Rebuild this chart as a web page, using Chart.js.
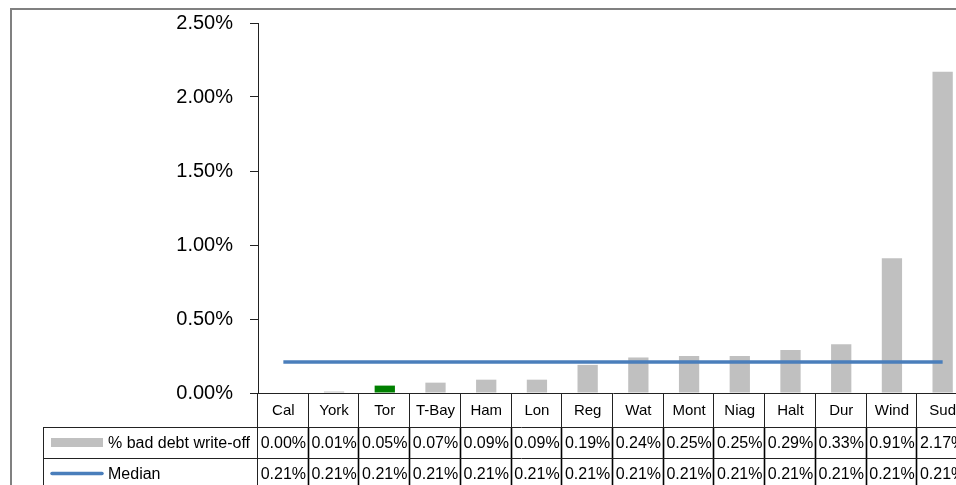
<!DOCTYPE html>
<html>
<head>
<meta charset="utf-8">
<title>% bad debt write-off</title>
<script src="https://cdn.jsdelivr.net/npm/chart.js@4/dist/chart.umd.min.js"></script>
<style>
  html, body { margin: 0; padding: 0; background: #fff; overflow: hidden; }
  #wrap { position: relative; width: 956px; height: 485px; overflow: hidden; }
  canvas { position: absolute; left: 0; top: 0; }
</style>
</head>
<body>
<div id="wrap"><canvas id="c" width="1000" height="520"></canvas></div>
<script>
// Write-off rates by region (percent), sorted ascending
const categories = ['Cal', 'York', 'Tor', 'T-Bay', 'Ham', 'Lon', 'Reg', 'Wat', 'Mont', 'Niag', 'Halt', 'Dur', 'Wind', 'Sud'];
const badDebt = [0.00, 0.01, 0.05, 0.07, 0.09, 0.09, 0.19, 0.24, 0.25, 0.25, 0.29, 0.33, 0.91, 2.17];
const median = [0.21, 0.21, 0.21, 0.21, 0.21, 0.21, 0.21, 0.21, 0.21, 0.21, 0.21, 0.21, 0.21, 0.21];
const seriesNames = ['% bad debt write-off', 'Median'];
const highlight = 'Tor';

const GREY = '#c0c0c0';
const GREEN = '#008000';
const BLUE = '#4a7ebb';
const NARROW = '"Liberation Sans Narrow", "Arial Narrow", "Liberation Sans", Arial, sans-serif';
const SANS = '"Liberation Sans", Arial, sans-serif';
const fmt = v => v.toFixed(2) + '%';

// Frame and data table drawn beneath the plot, aligned to the category scale
const dataTable = {
  id: 'dataTable',
  afterDraw(chart) {
    const ctx = chart.ctx;
    const x = chart.scales.x;
    const area = chart.chartArea;
    const n = categories.length;
    const step = x.width / n;
    const axisY = area.bottom;
    const rowTop = axisY + 34;
    const rowH = 31;
    const tableLeft = 43;
    const bottom = chart.height;

    ctx.save();
    // outer frame
    ctx.strokeStyle = '#808080';
    ctx.lineWidth = 2;
    ctx.beginPath();
    ctx.moveTo(11, bottom + 5);
    ctx.lineTo(11, 9);
    ctx.lineTo(chart.width + 5, 9);
    ctx.stroke();

    // y axis continues down through the table
    ctx.strokeStyle = '#222';
    ctx.lineWidth = 1;
    ctx.beginPath();
    ctx.moveTo(Math.round(area.left) - 0.5, axisY);
    ctx.lineTo(Math.round(area.left) - 0.5, bottom);
    ctx.stroke();

    // column separators in the category row
    ctx.beginPath();
    for (let i = 1; i <= n; i++) {
      const bx = Math.round(area.left + i * step) - 0.5;
      ctx.moveTo(bx, axisY);
      ctx.lineTo(bx, rowTop);
    }
    ctx.stroke();

    // column separators in value rows
    ctx.strokeStyle = '#000';
    ctx.lineWidth = 1.6;
    ctx.beginPath();
    for (let i = 1; i <= n; i++) {
      const bx = Math.round(area.left + i * step) - 0.5;
      ctx.moveTo(bx, rowTop);
      ctx.lineTo(bx, bottom);
    }
    ctx.stroke();

    // horizontal rules and left edge of the legend column
    ctx.strokeStyle = '#222';
    ctx.lineWidth = 1;
    ctx.beginPath();
    for (let r = 0; r <= 2; r++) {
      const y = Math.round(rowTop + r * rowH) + 0.5;
      ctx.moveTo(tableLeft, y);
      ctx.lineTo(chart.width, y);
    }
    ctx.moveTo(tableLeft + 0.5, rowTop);
    ctx.lineTo(tableLeft + 0.5, bottom);
    ctx.stroke();

    // category labels
    ctx.fillStyle = '#000';
    ctx.textAlign = 'center';
    ctx.textBaseline = 'middle';
    ctx.font = '15px ' + SANS;
    categories.forEach((c, i) => {
      ctx.fillText(c, x.getPixelForValue(i), (axisY + rowTop) / 2 + 1);
    });

    // values
    ctx.font = '16px ' + NARROW;
    const rows = [badDebt, median];
    rows.forEach((vals, r) => {
      const cy = rowTop + r * rowH + rowH / 2 + 1;
      vals.forEach((v, i) => ctx.fillText(fmt(v), x.getPixelForValue(i), cy));
    });

    // legend keys
    ctx.fillStyle = GREY;
    ctx.fillRect(51, rowTop + 11, 52, 9);
    ctx.strokeStyle = BLUE;
    ctx.lineWidth = 3.5;
    ctx.lineCap = 'round';
    ctx.beginPath();
    ctx.moveTo(52, rowTop + rowH + 15.5);
    ctx.lineTo(102, rowTop + rowH + 15.5);
    ctx.stroke();

    ctx.fillStyle = '#000';
    ctx.textAlign = 'left';
    ctx.font = '16px ' + SANS;
    ctx.fillText(seriesNames[0], 108, rowTop + rowH / 2 + 1);
    ctx.fillText(seriesNames[1], 108, rowTop + rowH + rowH / 2 + 1);
    ctx.restore();
  }
};

new Chart(document.getElementById('c'), {
  data: {
    labels: categories,
    datasets: [
      {
        type: 'line',
        label: seriesNames[1],
        data: median,
        borderColor: BLUE,
        borderWidth: 3.5,
        pointRadius: 0,
        fill: false,
        order: 0
      },
      {
        type: 'bar',
        label: seriesNames[0],
        data: badDebt,
        backgroundColor: categories.map(c => c === highlight ? GREEN : GREY),
        categoryPercentage: 1,
        barPercentage: 0.4,
        order: 1
      }
    ]
  },
  options: {
    responsive: false,
    animation: false,
    devicePixelRatio: 1,
    layout: { padding: { top: 23, right: 32, left: 0, bottom: 0 } },
    plugins: { legend: { display: false }, tooltip: { enabled: false } },
    scales: {
      x: {
        offset: true,
        afterFit: s => { s.height = 127; },
        ticks: { display: false },
        grid: { display: false, drawTicks: false },
        border: { display: true, color: '#222', width: 1 }
      },
      y: {
        min: 0,
        max: 2.5,
        afterFit: s => { s.width = 258; s.paddingTop = 0; s.paddingBottom = 0; },
        ticks: {
          stepSize: 0.5,
          padding: 17,
          color: '#000',
          font: { family: NARROW, size: 20 },
          callback: v => fmt(v)
        },
        grid: { drawOnChartArea: false, drawTicks: true, tickLength: 8, color: '#222' },
        border: { display: true, color: '#222', width: 1 }
      }
    }
  },
  plugins: [dataTable]
});
</script>
</body>
</html>
